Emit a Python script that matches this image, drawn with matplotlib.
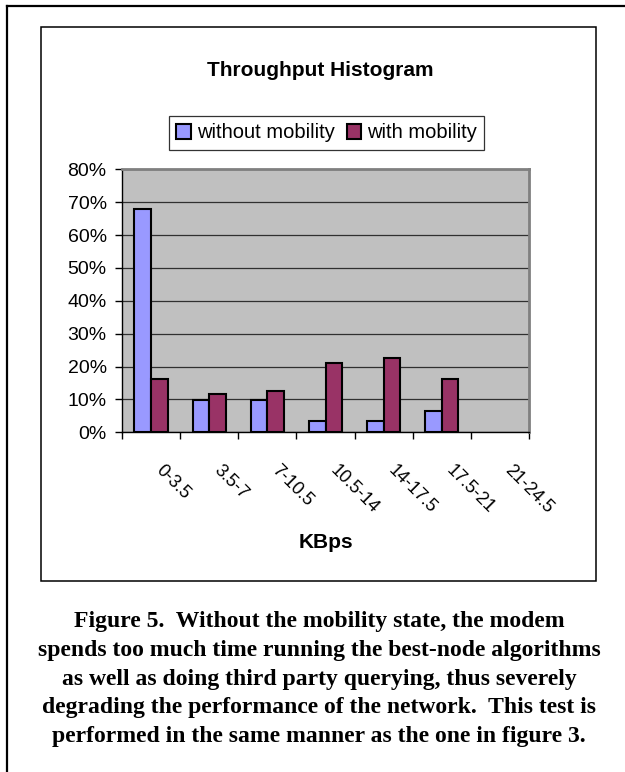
import matplotlib
matplotlib.use("Agg")
import matplotlib.pyplot as plt
import matplotlib.transforms as mtransforms
from matplotlib.lines import Line2D
from matplotlib.patches import Rectangle
from matplotlib.ticker import FixedLocator, PercentFormatter
import numpy as np

# data (fractions of total)
categories = ['0-3.5', '3.5-7', '7-10.5', '10.5-14', '14-17.5', '17.5-21', '21-24.5']
without_mobility = [0.678, 0.097, 0.097, 0.033, 0.033, 0.065, 0.0]
with_mobility = [0.161, 0.117, 0.127, 0.211, 0.226, 0.161, 0.0]
y_ticks = [0, 0.1, 0.2, 0.3, 0.4, 0.5, 0.6, 0.7, 0.8]

caption_lines = [
    "Figure 5.  Without the mobility state, the modem",
    "spends too much time running the best-node algorithms",
    "as well as doing third party querying, thus severely",
    "degrading the performance of the network.  This test is",
    "performed in the same manner as the one in figure 3.",
]

plt.rcParams['font.family'] = ['Liberation Sans', 'DejaVu Sans']

W, H = 625, 772
fig = plt.figure(figsize=(W / 100, H / 100), dpi=100)

# outer page frame (only top and left edges visible)
fig.add_artist(Line2D([6.5 / W, 1.0], [1 - 5.7 / H, 1 - 5.7 / H], color='black', lw=1.6))
fig.add_artist(Line2D([6.5 / W, 6.5 / W], [0.0, 1 - 5.7 / H], color='black', lw=1.6))

# chart area frame
fig.add_artist(Rectangle((40.7 / W, 1 - 581 / H), 555 / W, 553.7 / H,
                         fill=False, edgecolor='black', lw=1.1))

ax = fig.add_axes([122 / W, 1 - 432.3 / H, 407 / W, 262.9 / H])
ax.set_facecolor('#C0C0C0')

x = np.arange(len(categories))
bw = 1 / 3.5
wo = np.array(without_mobility)
wi = np.array(with_mobility)
# empty bins draw nothing in the original
m1 = wo > 0
m2 = wi > 0
ax.bar(x[m1] - bw / 2, wo[m1], bw, color='#9999FF', edgecolor='black',
       lw=1.5, label='without mobility', zorder=3)
ax.bar(x[m2] + bw / 2, wi[m2], bw, color='#993366', edgecolor='black',
       lw=1.5, label='with mobility', zorder=3)

ax.set_xlim(-0.5, len(categories) - 0.5)
ax.set_ylim(0, 0.8)
ax.set_yticks(y_ticks)
ax.yaxis.set_major_formatter(PercentFormatter(1.0, decimals=0))
ax.grid(axis='y', color='#303030', lw=0.9, zorder=1)

# ticks at category boundaries, labels at centres
ax.xaxis.set_major_locator(FixedLocator(np.arange(len(categories) + 1) - 0.5))
ax.xaxis.set_minor_locator(FixedLocator(x))
ax.set_xticklabels([], minor=False)
ax.set_xticklabels(categories, minor=True, rotation=-45, ha='left', va='top',
                   rotation_mode='anchor', fontsize=13)
ax.tick_params(axis='x', which='major', length=5, width=1, color='black')
ax.tick_params(axis='x', which='minor', length=0, pad=21)
ax.tick_params(axis='y', length=5, width=1, pad=6, labelsize=14)
offset = mtransforms.ScaledTranslation(13 / 100, 0, fig.dpi_scale_trans)
for lab in ax.xaxis.get_minorticklabels():
    lab.set_transform(lab.get_transform() + offset)

for side in ['top', 'right']:
    ax.spines[side].set_color('#808080')
    ax.spines[side].set_linewidth(2)
ax.spines['left'].set_linewidth(1)
ax.spines['bottom'].set_linewidth(1)

fig.text(320 / W, 1 - 76 / H, 'Throughput Histogram', ha='center', va='baseline',
         fontsize=15, fontweight='bold')
fig.text(326 / W, 1 - 548 / H, 'KBps', ha='center', va='baseline',
         fontsize=15, fontweight='bold')

leg = fig.legend(loc='center', bbox_to_anchor=(326.5 / W, 1 - 133 / H), ncol=2,
                 fontsize=14.5, frameon=True, fancybox=False, edgecolor='black',
                 handlelength=0.7, handleheight=0.7, handletextpad=0.3,
                 columnspacing=0.6, borderpad=0.35, borderaxespad=0)
leg.get_frame().set_linewidth(0.9)

for i, line in enumerate(caption_lines):
    fig.text(319 / W, 1 - (627 + i * 28.75) / H, line, ha='center', va='baseline',
             family=['Liberation Serif', 'DejaVu Serif'], fontweight='bold', fontsize=17)

fig.savefig('out.png', dpi=100)
